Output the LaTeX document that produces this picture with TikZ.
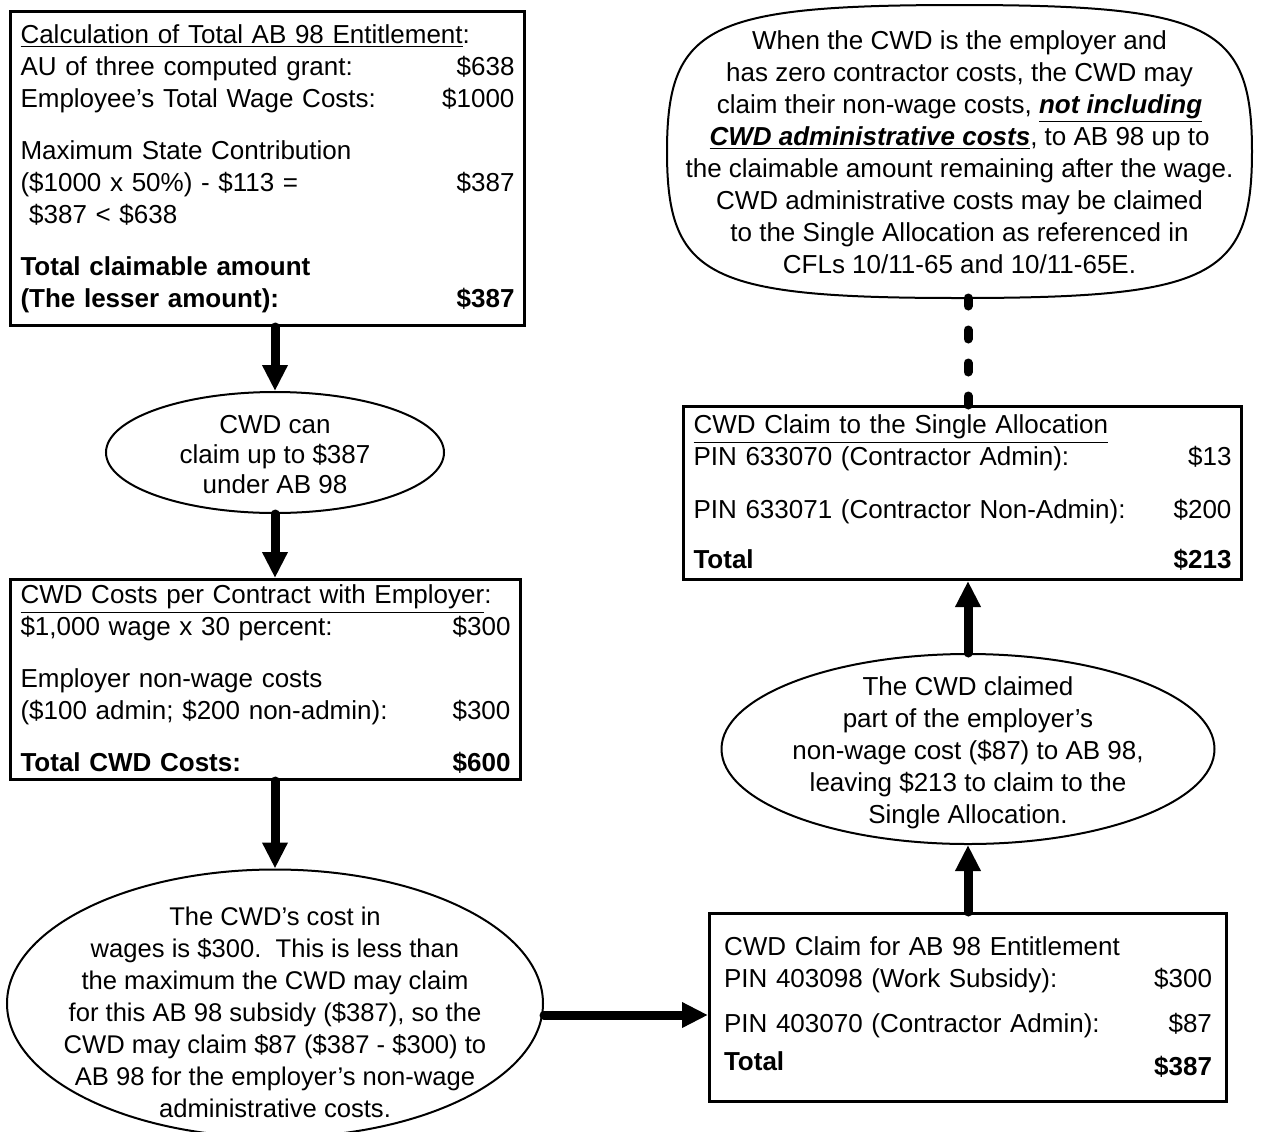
\documentclass[tikz,border=0pt]{standalone}
\usepackage{fontspec}
\setmainfont{Liberation Sans}
\usetikzlibrary{shapes.geometric,arrows.meta}

\tikzset{
  calcbox/.style={draw,line width=1.5pt,anchor=north west,align=left,inner xsep=5pt,inner ysep=0pt},
  bubble/.style={draw,ellipse,line width=1pt,inner sep=0pt},
  bubbletext/.style={align=center,inner sep=0pt},
  fatarrow/.style={line width=4.5pt,line cap=round,-{Triangle[width=12pt,length=13pt]}},
}

\begin{document}
\begin{tikzpicture}[x=0.5pt,y=-0.5pt,font=\fontsize{13}{16}\selectfont]
\useasboundingbox (0,0) rectangle (1265,1131);

% left column
\node[calcbox,minimum width=256pt,minimum height=157pt,text width=247pt] (calc) at (9,10) {%
\underline{Calculation of Total AB 98 Entitlement}:\\
AU of three computed grant:\hfill\$638\\
Employee’s Total Wage Costs:\hfill\$1000\\[10pt]
Maximum State Contribution\\
(\$1000 x 50\%) - \$113 =\hfill\$387\\
\ \$387 < \$638\\[10pt]
\textbf{Total claimable amount}\\
\textbf{(The lesser amount):}\hfill\textbf{\$387}};

\node[bubble,minimum width=169pt,minimum height=60.5pt] (canclaim) at (275,452.5) {};
\node[bubbletext,font=\fontsize{13}{15}\selectfont] (canclaimtxt) at (275,455) {CWD can\\claim up to \$387\\under AB 98};

\node[calcbox,minimum width=254pt,minimum height=100pt,text width=245pt] (costs) at (9,578) {%
\underline{CWD Costs per Contract with Employer}:\\
\$1,000 wage x 30 percent:\hfill\$300\\[10pt]
Employer non-wage costs\\
(\$100 admin; \$200 non-admin):\hfill\$300\\[10pt]
\textbf{Total CWD Costs:}\hfill\textbf{\$600}};

\node[bubble,minimum width=268pt,minimum height=134pt] (wagecost) at (275,1003.5) {};
\node[bubbletext,font=\fontsize{12.8}{16}\selectfont] (wagecosttxt) at (275,1012) {The CWD’s cost in\\
wages is \$300.\ \ This is less than\\
the maximum the CWD may claim\\
for this AB 98 subsidy (\$387), so the\\
CWD may claim \$87 (\$387 - \$300) to\\
AB 98 for the employer’s non-wage\\
administrative costs.};

% right column
\node[calcbox,minimum width=258.5pt,minimum height=94pt,text width=244pt] (entitle) at (708,912) {%
CWD Claim for AB 98 Entitlement\\
PIN 403098 (Work Subsidy):\hfill\$300\\[6.5pt]
PIN 403070 (Contractor Admin):\hfill\$87\\[3pt]
\textbf{Total}\hfill\raisebox{-2.5pt}{\textbf{\$387}}};

\node[bubble,minimum width=246.5pt,minimum height=95pt] (remain) at (968,749) {};
\node[bubbletext] (remaintxt) at (968,753) {The CWD claimed\\
part of the employer’s\\
non-wage cost (\$87) to AB 98,\\
leaving \$213 to claim to the\\
Single Allocation.};

\node[calcbox,minimum width=279pt,minimum height=86.5pt,text width=269pt] (single) at (682,405) {%
\underline{CWD Claim to the Single Allocation}\\
PIN 633070 (Contractor Admin):\hfill\$13\\[10.5pt]
PIN 633071 (Contractor Non-Admin):\hfill\$200\\[9pt]
\textbf{Total}\hfill\textbf{\$213}};

% squarish oval round the note
\begin{scope}[shift={(959.5,151.5)}]
\draw[line width=1pt] (292.5,0) .. controls (292.5,-126) and (251.5,-146.5) .. (0,-146.5)
  .. controls (-251.5,-146.5) and (-292.5,-126) .. (-292.5,0)
  .. controls (-292.5,126) and (-251.5,146.5) .. (0,146.5)
  .. controls (251.5,146.5) and (292.5,126) .. cycle;
\coordinate (employerbase) at (0,146.5);
\end{scope}
\node[bubbletext] (employer) at (959.5,152) {When the CWD is the employer and\\
has zero contractor costs, the CWD may\\
claim their non-wage costs, \underline{\textbf{\textit{not including}}}\\
\underline{\textbf{\textit{CWD administrative costs}}}, to AB 98 up to\\
the claimable amount remaining after the wage.\\
CWD administrative costs may be claimed\\
to the Single Allocation as referenced in\\
CFLs 10/11-65 and 10/11-65E.};

% connectors
\draw[fatarrow] (calc.south -| canclaim.north) -- (canclaim.north);
\draw[fatarrow] (canclaim.south) -- (canclaim.south |- costs.north);
\draw[fatarrow] (costs.south -| wagecost.north) -- (wagecost.north);
\coordinate (feed) at ([yshift=-5.75pt]wagecost.east);
\draw[fatarrow] (feed) -- (feed -| entitle.west);
\draw[fatarrow] (entitle.north -| remain.south) -- (remain.south);
\draw[fatarrow] (remain.north) -- (remain.north |- single.south);
\draw[line width=4.5pt,line cap=round,dash pattern=on 4.5pt off 12pt] (single.north -| remain.north) -- (employerbase -| remain.north);
\end{tikzpicture}
\end{document}
